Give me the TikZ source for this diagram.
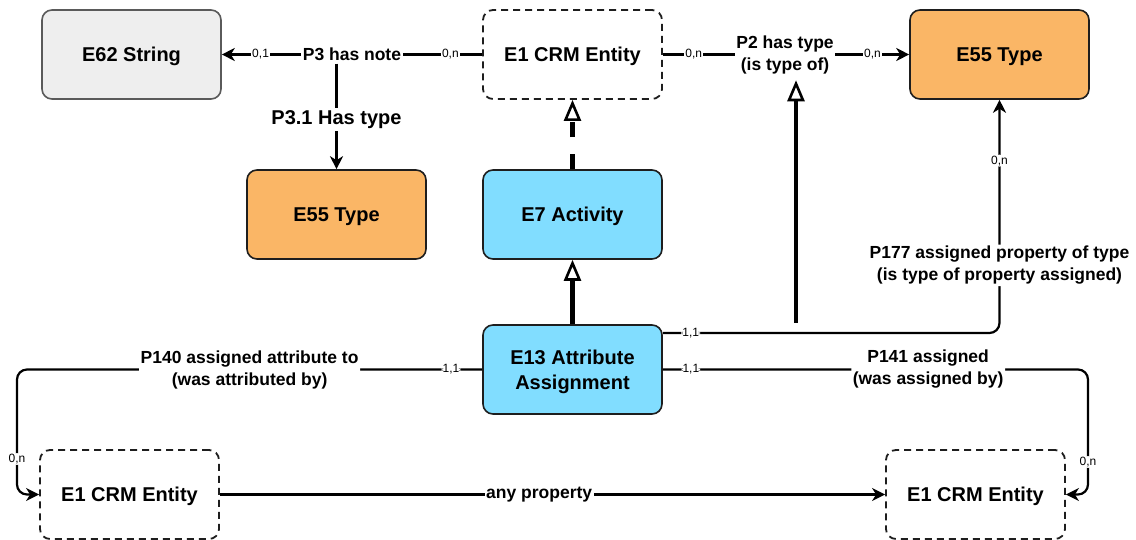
\documentclass[tikz,border=0pt]{standalone}
\usepackage{fontspec}
\setmainfont{Liberation Sans}
\usetikzlibrary{arrows.meta}
\definecolor{orangeT}{RGB}{250,182,102}
\definecolor{blueA}{RGB}{129,221,255}
\definecolor{grayS}{RGB}{238,238,238}
\definecolor{bord}{RGB}{30,30,30}
\definecolor{grayB}{RGB}{90,90,90}
\begin{document}
\begin{tikzpicture}[x=1pt,y=-1pt,
  ent/.style={rounded corners=10pt, minimum width=179pt, minimum height=89pt, draw=bord, line width=1.6pt, font=\fontsize{20}{25}\selectfont\bfseries, align=center, inner sep=0pt, text depth=0pt},
  dent/.style={ent, dash pattern=on 7pt off 5pt, fill=white, line width=1.8pt},
  lbl/.style={fill=white, font=\fontsize{17.5}{22}\selectfont\bfseries, align=center, inner sep=1.5pt},
  biglbl/.style={fill=white, font=\fontsize{20}{24}\selectfont\bfseries, align=center, inner sep=2pt},
  mult/.style={fill=white, font=\fontsize{12}{14}\selectfont, inner sep=1pt},
  rl/.style={line width=2.2pt, draw=black},
  rel/.style={rl, -{Stealth[length=13pt,width=13pt,inset=4pt]}},
  isa/.style={line width=4.8pt, -{Triangle[length=21pt,width=17pt,fill=white,line width=2.6pt]}},
]
\useasboundingbox (0,0) rectangle (1136,540);

% entities
\node[ent, fill=grayS, draw=grayB] (str)  at (131.5,54.5)  {E62 String};
\node[dent]              (crm)  at (572.5,54.5)  {E1 CRM Entity};
\node[ent, fill=orangeT] (typ1) at (999.5,54.5)  {E55 Type};
\node[ent, fill=orangeT] (typ2) at (336.5,214.5) {E55 Type};
\node[ent, fill=blueA]   (act)  at (572.5,214.5) {E7 Activity};
\node[ent, fill=blueA]   (aa)   at (572.5,369.5) {E13 Attribute\\Assignment};
\node[dent]              (crmL) at (129.5,494.5) {E1 CRM Entity};
\node[dent]              (crmR) at (975.5,494.5) {E1 CRM Entity};

% helper coordinates
\coordinate (cL) at (17,0);
\coordinate (cR) at (1088,0);
\coordinate (isaStart) at (796,323);

% P3 has note
\draw[rel] (crm.west) --
  node[mult, pos=0.122] {0,n}
  node[lbl, pos=0.5] (p3) {P3 has note}
  node[mult, pos=0.851] {0,1} (str.east);

% P3.1 has type
\draw[rel] (p3.south -| typ2.north) -- node[biglbl, pos=0.53] {P3.1 Has type} (typ2.north);

% P2 has type
\draw[rel] (crm.east) --
  node[mult, pos=0.125] {0,n}
  node[lbl, pos=0.496] (p2) {P2 has type\\(is type of)}
  node[mult, pos=0.851] {0,n} (typ1.west);

% is-a links
\draw[isa] (aa.north) -- (act.south);
\draw[isa, dash pattern=on 15pt off 17pt] (act.north) -- (crm.south);
\draw[isa, shorten >=4pt] (isaStart) -- (p2.south -| isaStart);

% P177
\draw[rel, rounded corners=10pt] ([yshift=36.5pt]aa.east) --
  node[mult, pos=0.083] {1,1}
  ([yshift=36.5pt]aa.east -| typ1.south) --
  node[lbl, pos=0.29] {P177 assigned property of type\\(is type of property assigned)}
  node[mult, pos=0.739] {0,n} (typ1.south);

% P141
\draw[rel, rounded corners=10pt] (aa.east) --
  node[mult, pos=0.066] {1,1}
  node[lbl, pos=0.624] {P141 assigned\\(was assigned by)}
  (aa.east -| cR) --
  node[mult, pos=0.74] {0,n}
  (crmR.east -| cR) -- (crmR.east);

% P140
\draw[rel, rounded corners=10pt] (aa.west) --
  node[mult, pos=0.067] {1,1}
  node[lbl, pos=0.5] {P140 assigned attribute to\\(was attributed by)}
  (aa.west -| cL) --
  node[mult, pos=0.716] {0,n}
  (crmL.west -| cL) -- (crmL.west);

% any property
\draw[rel] (crmL.east) -- node[lbl, pos=0.48] {any property} (crmR.west);
\end{tikzpicture}
\end{document}
